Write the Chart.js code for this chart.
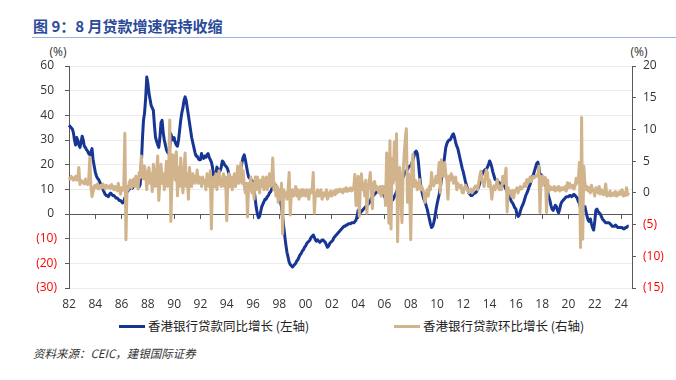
<!DOCTYPE html>
<html><head><meta charset="utf-8">
<script src="https://cdn.jsdelivr.net/npm/chart.js@4.4.1/dist/chart.umd.min.js"></script>
<style>
body{margin:0;width:676px;height:380px;background:#fff;position:relative;overflow:hidden;}
#title{position:absolute;left:33px;top:16px;font:bold 15px "Noto Sans CJK SC",sans-serif;color:#2B4A9A;white-space:nowrap;line-height:20px;}
#rule{position:absolute;left:32px;right:0;top:37px;height:0;border-top:1.5px solid #9FB3DC;}
.unit{position:absolute;top:44px;width:24px;text-align:center;font:12px "Open Sans",sans-serif;color:#333;line-height:16px;}
#wrap{position:absolute;left:0;top:40px;width:676px;height:276px;}
.lg{position:absolute;top:318px;height:16px;font:12.5px "Noto Sans CJK SC",sans-serif;color:#222;line-height:16px;white-space:nowrap;}
.sw{position:absolute;top:325px;width:26px;height:3px;}
#source{position:absolute;left:33px;top:345px;font:italic 11.5px "Noto Sans CJK SC",sans-serif;color:#333;white-space:nowrap;line-height:16px;}
</style></head>
<body>
<div id="title">图 9：8 月贷款增速保持收缩</div>
<div id="rule"></div>
<div class="unit" style="left:46px">(%)</div>
<div class="unit" style="left:627px">(%)</div>
<div id="wrap"><canvas id="c" width="676" height="276"></canvas></div>
<div class="sw" style="left:119px;background:#173694"></div>
<div class="lg" style="left:148px">香港银行贷款同比增长 (左轴)</div>
<div class="sw" style="left:394px;background:#D1B38C"></div>
<div class="lg" style="left:423px">香港银行贷款环比增长 (右轴)</div>
<div id="source">资料来源：CEIC，建银国际证券</div>
<script>
// Monthly, Jan 1982 – Aug 2024
const yoyGrowth = [
 36,35.5,35,34.5,33,30,28,31,30,28,27,29,            // 1982
 31.5,30,27.5,27,26,25.5,24.5,24,25,26.5,22,19.5,     // 1983
 17,15.5,14.5,14,13,12,11,10,9,8,7.5,7.5,             // 1984
 7,8,8.5,8,7.5,7.5,7,6.5,6.5,6,5.5,5.5,               // 1985
 5,4.5,5,6.5,7.5,9,9.5,10,10.5,11,10.5,11,            // 1986
 12,12.5,12,11.5,11,12,20,30,38,41,47,55.5,           // 1987
 53,49,46.5,44,43,42,36,31,29.5,28,27,31,             // 1988
 37,38,33,30,28,26,25,24.5,27,32.5,31,30,             // 1989
 31,29,28,27.5,30,34,38,41,43,46,47.5,46,             // 1990
 43,40,37,34,31,29,27,25,23.5,23.5,22.5,22,           // 1991
 22,24.5,23,22.5,23.5,23,24,24.5,23,22,21,19,         // 1992
 15,14,16,19,18,17,17.5,19,21.5,21,20,19.5,           // 1993
 19,18,16,13,12,12.5,12.5,13,13.5,14,14.5,15.5,       // 1994
 17,19,21,23,24,22,19.5,17,15,14.5,14,13.5,           // 1995
 13,10,6,2.5,0,-1.5,-1,1,3,4,5,6,                     // 1996
 6,7,7.5,8.5,9,10,11,12.5,12,11.5,10.5,9.5,           // 1997
 7,5,3,-1,-5,-9,-12.5,-15.5,-17.5,-19.5,-20.5,-21,    // 1998
 -21.5,-21,-20.5,-20,-19,-18.5,-17.5,-16.5,-16,-15,-14.5,-13.5, // 1999
 -13,-12,-11.5,-11,-10.5,-9.5,-9,-8.5,-9.5,-10.5,-11,-10.5,     // 2000
 -11,-11.5,-11,-10.5,-10.5,-11,-11.5,-12.5,-13.5,-13,-12,-11.5, // 2001
 -11,-10.5,-9.5,-9,-8.5,-8,-7.5,-7,-6.5,-6,-5.5,-5,   // 2002
 -5,-4.5,-4.5,-4,-4,-4,-3.5,-3.5,-3.5,-3,-2.5,-1,     // 2003
 1.5,1,0.5,1,1.5,2,2.5,3,3.5,4,4.5,5,                 // 2004
 6.5,7,7.5,8,8.5,9,9.5,10,9.5,9,8.5,8,                // 2005
 7,6.5,6,5.5,5,5,5,5.5,6,7,8,9,                       // 2006
 10,11,12,13,14,15,16,17,17.5,18,19,19.5,             // 2007
 19.5,20.5,22,23.5,25,25.5,24.5,21,16,12,9.5,7.5,     // 2008
 6,5,3.5,2,0,-2,-4,-5.5,-5,-3.5,-1.5,1.5,             // 2009
 4,6,8,10.5,14,17,20,23.5,27,28.5,29.5,30,            // 2010
 30,31,32,32.5,31,29,27.5,26.5,24.5,22.5,20.5,18.5,   // 2011
 17,15,13,11.5,10,8.5,8,7.5,7.5,8,8.5,8.5,            // 2012
 9,10,11,12.5,14,16,17,17.5,18,18,19,20,              // 2013
 21.5,20.5,19,17,15.5,14,14,13.5,13,12.5,12.5,12.5,   // 2014
 12,11.5,11,10,9,8,7,6,5,4.5,3.5,2.5,                 // 2015
 2,0,-1,-0.5,1,2.5,3.5,4.5,6,7.5,8.5,9.5,             // 2016
 11,12,13.5,15,16,17.5,19,20.5,21,19,15,16,           // 2017
 15,14.5,13,12,10.5,9,7,5.5,3.5,2,1.5,2.5,            // 2018
 3.5,3,1.5,0.5,2,4,5,5.5,6,6.5,7,7,                   // 2019
 7,7.5,7.5,7,7.5,8,7.5,7,6.5,5,4.5,2.5,               // 2020
 0.5,1,2.5,3,1,-1,-2.5,-3,-2,-4,-5.5,-6.5,            // 2021
 -3,1.5,2,1,0.5,0,-1,-2,-2.5,-3,-3.5,-3.5,            // 2022
 -3.5,-3.5,-4,-4.5,-5,-5,-5,-4.5,-5,-5.5,-5.5,-5.5,   // 2023
 -5.5,-5.5,-6,-6,-5.5,-5.5,-5,-5                      // 2024
];
const momGrowth = [
 2.5,2.2,2.6,2.3,2.0,2.4,2.6,2.0,2.3,4.0,1.3,2.0,     // 1982
 1.8,1.6,1.4,2.2,1.5,1.3,2.0,5.6,1.0,-0.6,0.2,1.0,    // 1983
 1.2,0.8,1.4,0.6,1.0,1.2,0.8,1.4,1.0,0.6,1.2,1.0,     // 1984
 0.8,1.1,0.7,1.3,0.9,0.5,1.0,0.8,0.3,1.5,0.6,-0.2,    // 1985
 0.8,0.4,1.0,9.4,-7.4,1.0,0.5,1.6,2.0,0.8,1.5,2.2,    // 1986
 1.0,2.6,1.8,0.6,3.2,2.4,5.8,3.0,2.2,4.2,3.0,0.5,     // 1987
 2.8,4.0,1.5,3.0,0.2,4.5,2.5,1.0,3.5,5.8,-1.2,2.0,    // 1988
 4.5,1.5,3.0,0.5,2.5,5.0,1.0,3.5,11.5,-4.5,2.0,6.0,   // 1989
 5.5,2.0,6.5,-0.5,4.0,1.0,5.5,2.5,0.0,3.5,6.3,1.0,    // 1990
 3.0,-1.0,4.0,2.0,1.0,3.0,2.5,1.5,2.0,3.6,1.5,2.5,    // 1991
 2.0,1.0,2.5,1.5,2.0,0.5,3.0,1.5,1.0,3.5,-5.7,2.0,    // 1992
 2.5,1.0,3.0,0.5,2.0,3.5,1.5,1.0,2.0,3.0,1.0,2.5,     // 1993
 -4.4,2.0,3.0,1.0,2.5,0.5,2.0,3.0,1.0,2.0,4.2,1.5,    // 1994
 2.5,4.8,1.5,3.5,1.0,0.0,1.5,-3.8,1.5,0.5,2.5,0.0,    // 1995
 1.5,-1.0,2.5,0.5,2.5,1.0,0.0,2.0,1.0,2.5,0.5,1.5,    // 1996
 2.5,0.5,1.5,3.0,1.0,2.0,5.5,0.5,1.5,-0.5,1.0,-1.5,   // 1997
 0.5,-1.0,1.5,-6.5,0.5,-0.5,0.0,-1.0,0.5,3.2,-3.5,0.0, // 1998
 0.5,-0.5,0.0,1.0,-0.5,0.5,-1.0,0.0,0.5,-0.5,0.5,0.0, // 1999
 -0.5,0.5,0.0,-1.0,0.5,0.0,0.5,3.2,-3.2,0.0,-0.5,0.5, // 2000
 -0.5,0.0,0.5,-1.0,-0.5,0.0,-0.5,0.5,-1.0,0.0,-0.5,0.3, // 2001
 -0.5,0.0,0.3,-0.3,0.5,0.0,0.3,0.6,0.2,0.5,0.0,0.6,   // 2002
 0.3,0.8,0.2,0.6,0.4,0.8,0.3,0.5,0.9,2.9,-2.0,0.5,    // 2003
 2.6,-3.7,1.0,3.0,0.5,1.5,-0.5,2.0,-3.2,0.5,1.5,3.2,  // 2004
 0.5,-2.5,1.5,1.8,0.5,1.0,0.5,0.0,1.0,-0.5,1.0,0.0,   // 2005
 1.0,-2.0,6.3,5.7,-4.8,8.2,-5.7,5.4,1.5,8.0,2.0,9.3,  // 2006
 -7.7,2.6,4.0,-1.0,-4.7,3.0,6.0,8.5,10.1,-1.5,3.0,0.5, // 2007
 -7.4,4.2,6.1,1.0,2.0,1.6,0.5,1.0,2.1,0.5,1.0,0.5,    // 2008
 0.0,-1.5,-0.5,0.5,-0.5,1.0,0.5,3.2,1.5,1.1,1.6,2.6,  // 2009
 1.6,3.0,4.8,0.0,5.2,3.2,2.6,4.8,3.1,2.0,-1.0,2.6,    // 2010
 2.0,3.0,2.6,1.5,2.0,2.5,0.5,1.5,1.1,0.8,1.2,0.0,     // 2011
 0.0,0.8,1.2,0.8,0.5,0.0,0.3,0.6,0.0,0.4,0.8,1.1,     // 2012
 1.1,0.5,1.5,2.6,3.4,2.0,1.6,1.0,2.5,3.6,3.2,1.0,     // 2013
 2.0,1.0,-1.0,0.5,1.1,0.5,1.2,2.1,0.8,0.5,1.0,0.5,    // 2014
 2.6,1.5,2.5,3.9,-3.0,0.8,0.0,0.3,-0.5,0.4,-0.8,0.2,  // 2015
 0.5,0.8,0.0,0.5,1.0,0.6,0.8,1.0,1.5,1.0,2.1,1.5,     // 2016
 2.0,2.5,1.8,2.3,2.6,2.4,2.6,2.8,2.6,4.2,-3.1,2.6,    // 2017
 1.1,2.6,1.5,2.4,-3.1,2.0,0.3,1.0,0.5,0.8,0.5,1.0,    // 2018
 0.3,0.8,0.5,1.0,0.3,0.8,0.5,0.8,0.5,1.0,0.3,1.6,     // 2019
 0.8,1.5,1.0,0.8,1.2,0.6,1.0,2.3,1.5,1.8,4.8,-8.6,    // 2020
 11.9,-7.3,4.2,1.5,0.5,1.0,0.3,0.8,0.0,1.2,0.5,0.2,   // 2021
 -0.5,0.8,0.3,0.0,1.0,-0.2,0.5,0.2,-0.3,0.3,1.4,-0.5, // 2022
 0.0,-0.4,0.3,-0.5,-0.2,0.0,-0.4,0.2,-0.5,0.0,-0.3,0.2, // 2023
 -0.2,0.5,-0.5,0.0,-0.4,0.8,-0.3,0.0                  // 2024
];
// Month categories Jan 1982 – Nov 2024 (axis runs a little past the last data point)
const months = [];
for (let y = 1982; y <= 2024; y++) {
  for (let m = 1; m <= 12; m++) {
    if (y === 2024 && m > 11) break;
    months.push(y + '-' + String(m).padStart(2, '0'));
  }
}
const tickFont = { family: 'Open Sans', size: 12 };
const axisGrey = '#595959';

new Chart(document.getElementById('c'), {
  type: 'line',
  data: {
    labels: months,
    datasets: [
      { label: '香港银行贷款同比增长 (左轴)', data: yoyGrowth, yAxisID: 'y', xAxisID: 'x',
        borderColor: '#173694', borderWidth: 3, pointRadius: 0, tension: 0, order: 2,
        borderJoinStyle: 'round' },
      { label: '香港银行贷款环比增长 (右轴)', data: momGrowth, yAxisID: 'y1', xAxisID: 'x',
        borderColor: '#D1B38C', borderWidth: 3, pointRadius: 0, tension: 0, order: 1,
        borderJoinStyle: 'round' }
    ]
  },
  options: {
    responsive: false, animation: false, events: [],
    layout: { padding: { top: 26, bottom: 0, left: 0, right: 0 } },
    plugins: { legend: { display: false }, tooltip: { enabled: false } },
    scales: {
      x: {
        type: 'category', position: 'bottom',
        grid: { display: false, drawTicks: false }, border: { display: false },
        ticks: {
          autoSkip: false, maxRotation: 0, padding: 9, font: tickFont, color: '#333',
          callback: function (v) {
            const l = this.getLabelForValue(v);
            const y = +l.slice(0, 4), m = +l.slice(5);
            return (m === 1 && y % 2 === 0) ? l.slice(2, 4) : null;
          }
        },
        afterFit: s => { s.height = 28; }
      },
      xz: {
        type: 'category', position: { y: 0 },
        grid: { drawOnChartArea: false, drawTicks: true, tickLength: 4,
          tickColor: ctx => (ctx.index % 24 === 0 ? axisGrey : 'rgba(0,0,0,0)') },
        border: { display: true, color: axisGrey, width: 1 },
        ticks: { display: false, autoSkip: false }
      },
      y: {
        position: 'left', min: -30, max: 60,
        ticks: { stepSize: 10, padding: 8, font: tickFont,
          color: ctx => (ctx.tick.value < 0 ? '#FF0000' : '#333'),
          callback: v => (v < 0 ? '(' + (-v) + ')' : v + '\u2005') },
        grid: { color: '#EBEBEB', lineWidth: 1, tickLength: 4, tickColor: axisGrey },
        border: { display: true, color: axisGrey, width: 1 },
        afterFit: s => { s.width = 69; }
      },
      y1: {
        position: 'right', min: -15, max: 20,
        ticks: { stepSize: 5, padding: 7, font: tickFont,
          color: ctx => (ctx.tick.value < 0 ? '#FF0000' : '#333'),
          callback: v => (v < 0 ? '(' + (-v) + ')' : '' + v) },
        grid: { drawOnChartArea: false, tickLength: 4, tickColor: axisGrey },
        border: { display: true, color: axisGrey, width: 1 },
        afterFit: s => { s.width = 44; }
      }
    }
  }
});
</script>
</body></html>
